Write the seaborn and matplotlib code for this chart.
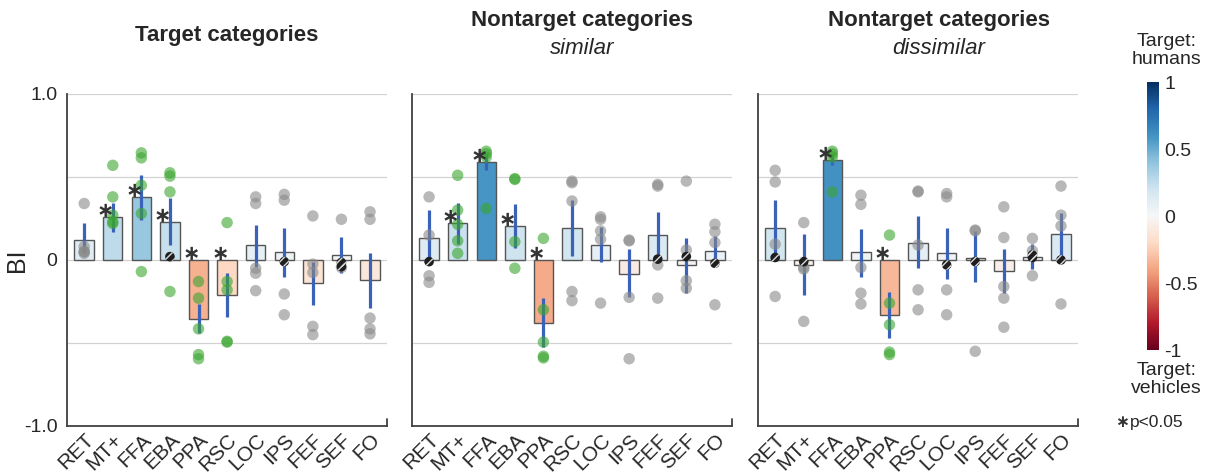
import numpy as np
import seaborn as sns
import matplotlib.pyplot as plt
import matplotlib as mpl

# regions of interest (x axis)
cats = ["RET", "MT+", "FFA", "EBA", "PPA", "RSC", "LOC", "IPS", "FEF", "SEF", "FO"]

# --- Target categories ---
bi_target = [0.12, 0.26, 0.38, 0.23, -0.355, -0.21, 0.09, 0.05, -0.14, 0.03, -0.12]
lo_target = [0.04, 0.17, 0.24, 0.09, -0.44, -0.345, -0.04, -0.10, -0.27, -0.08, -0.29]
hi_target = [0.22, 0.345, 0.51, 0.375, -0.265, -0.08, 0.21, 0.19, -0.01, 0.14, 0.04]
sig_target = [0, 1, 1, 1, 1, 1, 0, 0, 0, 0, 0]
dots_target = [
    [0.34, 0.08, 0.05, 0.05, 0.04],
    [0.57, 0.38, 0.27, 0.23, 0.22],
    [0.645, 0.615, 0.45, 0.28, -0.07],
    [0.525, 0.505, 0.41, -0.19],
    [-0.13, -0.23, -0.415, -0.57, -0.595],
    [0.225, -0.13, -0.18, -0.49, -0.495],
    [0.38, 0.34, -0.05, -0.08, -0.185],
    [0.395, 0.36, -0.205, -0.33],
    [0.265, -0.025, -0.075, -0.40, -0.45],
    [0.245, -0.045],
    [0.29, 0.245, -0.35, -0.415, -0.445],
]
hatch_target = [[], [], [], [0.02], [], [], [], [-0.01], [], [-0.015, -0.04], []]

# --- Nontarget, similar ---
bi_similar = [0.13, 0.225, 0.59, 0.205, -0.38, 0.19, 0.09, -0.085, 0.15, -0.03, 0.055]
lo_similar = [0.0, 0.095, 0.54, 0.075, -0.525, 0.025, -0.015, -0.225, 0.0, -0.2, 0.0]
hi_similar = [0.30, 0.345, 0.64, 0.335, -0.23, 0.36, 0.20, 0.065, 0.29, 0.135, 0.145]
sig_similar = [0, 1, 1, 1, 1, 0, 0, 0, 0, 0, 0]
dots_similar = [
    [0.38, 0.15, -0.095, -0.135],
    [0.51, 0.30, 0.215, 0.115, 0.04],
    [0.655, 0.64, 0.62, 0.31],
    [0.49, 0.485, 0.11, -0.05],
    [0.13, -0.30, -0.495, -0.58, -0.59],
    [0.475, 0.465, 0.355, -0.19, -0.245],
    [0.26, 0.245, 0.175, 0.125, -0.26],
    [0.12, 0.115, -0.225, -0.595],
    [0.455, 0.445, -0.03, -0.23],
    [0.475, 0.06, -0.125, -0.17],
    [0.215, 0.17, 0.105, -0.27],
]
hatch_similar = [[-0.01], [], [], [], [], [], [], [], [0.005], [0.02], [-0.02]]

# --- Nontarget, dissimilar ---
bi_dissim = [0.19, -0.03, 0.605, 0.045, -0.33, 0.10, 0.04, 0.01, -0.065, 0.02, 0.155]
lo_dissim = [0.0, -0.21, 0.57, -0.10, -0.47, -0.05, -0.115, -0.13, -0.20, -0.055, 0.0]
hi_dissim = [0.36, 0.155, 0.64, 0.185, -0.195, 0.265, 0.195, 0.175, 0.065, 0.095, 0.285]
sig_dissim = [0, 0, 1, 0, 1, 0, 0, 0, 0, 0, 0]
dots_dissim = [
    [0.54, 0.47, 0.095, -0.22],
    [0.225, -0.045, -0.055, -0.37],
    [0.655, 0.64, 0.62, 0.41],
    [0.39, 0.335, -0.045, -0.20, -0.265],
    [0.15, -0.26, -0.39, -0.555, -0.57],
    [0.415, 0.41, 0.09, -0.18, -0.30],
    [0.40, 0.38, -0.18, -0.33],
    [0.18, 0.175, -0.55],
    [0.32, 0.135, -0.16, -0.23, -0.405],
    [0.13, 0.055, -0.095],
    [0.445, 0.27, 0.205, -0.265],
]
hatch_dissim = [[0.015], [-0.01], [], [], [], [], [-0.03], [-0.01], [], [0.03, 0.015], [0.0]]

sns.set_theme(style="white")
plt.rcParams['font.family'] = ['Liberation Sans', 'DejaVu Sans']
plt.rcParams['hatch.linewidth'] = 1.0

cmap = plt.get_cmap("RdBu")
norm = mpl.colors.Normalize(vmin=-1, vmax=1)
spine_col = "#404040"
green = "#3aa52f"
grey = "#8a8a8a"
err_col = "#3a62b8"


def draw_panel(ax, vals, lo, hi, sig, dots, hatched, show_y):
    for y in [1, 0.5, 0, -0.5]:
        ax.axhline(y, color="#d2d2d2", lw=0.9, zorder=0)

    pal = {c: cmap(norm(v)) for c, v in zip(cats, vals)}
    sns.barplot(
        x=cats,
        y=vals,
        hue=cats,
        palette=pal,
        legend=False,
        width=0.68,
        saturation=1,
        edgecolor="#555555",
        linewidth=1,
        errorbar=None,
        ax=ax,
        zorder=2
    )

    xs = np.arange(len(cats))
    ax.vlines(xs, lo, hi, color=err_col, lw=2.3, zorder=3)

    for i in range(len(cats)):
        d = dots[i]
        ax.scatter([i] * len(d), d, s=68, color=green if sig[i] else grey,
                   alpha=0.6, edgecolor="none", zorder=4)
        h = hatched[i]
        if h:
            ax.scatter([i] * len(h), h, s=48, facecolor="#1e1e1e",
                       edgecolor="none", zorder=5)
            ax.scatter([i] * len(h), h, s=48, facecolor="none",
                       edgecolor="#d8d8d8", hatch="////", linewidth=0,
                       zorder=6)
        if sig[i]:
            ax.text(i - 0.25, max(vals[i], 0) + 0.035, "\u2217",
                    family=["DejaVu Sans"], fontsize=15, color="#333333",
                    fontweight="bold", ha="center", va="center", zorder=7)

    ax.set_xlim(-0.6, 10.6)
    ax.set_ylim(-1, 1)
    sns.despine(ax=ax)
    for s in ["left", "bottom"]:
        ax.spines[s].set_color(spine_col)
        ax.spines[s].set_linewidth(1.3)
    ax.set_xticks(xs)
    ax.set_xticklabels(cats, rotation=45, ha="right", rotation_mode="anchor",
                       fontsize=15)
    ax.tick_params(axis="x", length=0, pad=3)
    ax.set_yticks([-1, 0, 1])
    ax.tick_params(axis="y", direction="in", length=5, width=1.3,
                   color=spine_col, pad=7, labelsize=14)
    if show_y:
        ax.set_yticklabels(["-1.0", "0", "1.0"])
        ax.set_ylabel("BI", fontsize=18)
        ax.yaxis.set_label_coords(-0.118, 0.5)
    else:
        ax.set_yticklabels([])
    ax.set_xlabel("")
    ax.plot([1, 1], [0, 0.02], transform=ax.transAxes, color=spine_col,
            lw=1.3, clip_on=False)


fig = plt.figure(figsize=(12.08, 4.73), dpi=100)
bottom, height = 0.0994, 0.702
ax1 = fig.add_axes([0.0555, bottom, 0.265, height])
ax2 = fig.add_axes([0.341, bottom, 0.265, height])
ax3 = fig.add_axes([0.6275, bottom, 0.265, height])

draw_panel(ax1, bi_target, lo_target, hi_target, sig_target, dots_target, hatch_target, True)
draw_panel(ax2, bi_similar, lo_similar, hi_similar, sig_similar, dots_similar, hatch_similar, False)
draw_panel(ax3, bi_dissim, lo_dissim, hi_dissim, sig_dissim, dots_dissim, hatch_dissim, False)

fig.text(0.188, 0.925, "Target categories", fontsize=16, fontweight="bold",
         ha="center", va="center")
fig.text(0.482, 0.957, "Nontarget categories", fontsize=16, fontweight="bold",
         ha="center", va="center")
fig.text(0.482, 0.898, "similar", fontsize=16, style="italic",
         ha="center", va="center")
fig.text(0.777, 0.957, "Nontarget categories", fontsize=16, fontweight="bold",
         ha="center", va="center")
fig.text(0.777, 0.898, "dissimilar", fontsize=16, style="italic",
         ha="center", va="center")

# colorbar
cax = fig.add_axes([0.9495, 0.26, 0.0099, 0.5666])
cb = fig.colorbar(mpl.cm.ScalarMappable(norm=norm, cmap=cmap), cax=cax)
cb.outline.set_visible(False)
cb.set_ticks([-1, -0.5, 0, 0.5, 1])
cb.set_ticklabels(["-1", "-0.5", "0", "0.5", "1"])
cax.tick_params(length=0, labelsize=14, pad=4)

fig.text(0.9655, 0.893, "Target:\nhumans", fontsize=14, ha="center",
         va="center", linespacing=1.05)
fig.text(0.9655, 0.197, "Target:\nvehicles", fontsize=14, ha="center",
         va="center", linespacing=1.05)
fig.text(0.923, 0.107, "\u2217", family=["DejaVu Sans"], fontsize=12,
         fontweight="bold", ha="left", va="center", color="#333333")
fig.text(0.935, 0.107, "p<0.05", fontsize=12.5, ha="left", va="center")

fig.savefig("out.png", dpi=100)
